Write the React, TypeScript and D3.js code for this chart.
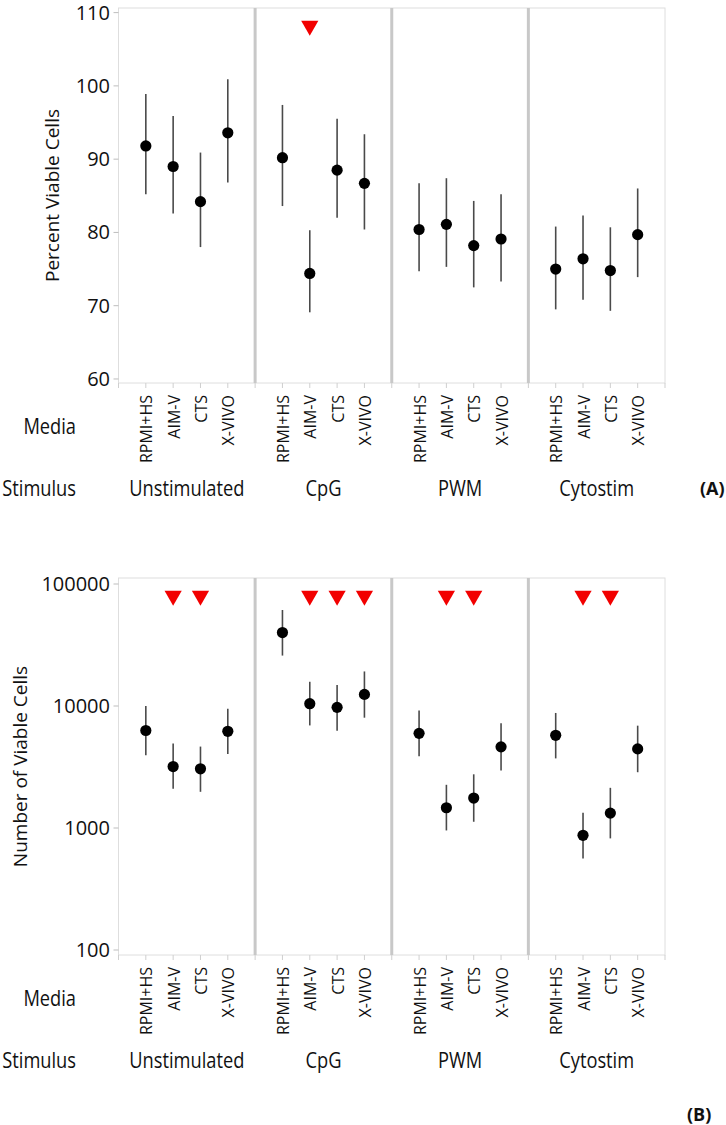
import React from "react";
import * as d3 from "d3";

// ---------- data ----------
const stimuli = ["Unstimulated", "CpG", "PWM", "Cytostim"];
const media = ["RPMI+HS", "AIM-V", "CTS", "X-VIVO"];

// Panel A: Percent viable cells (order: stimulus-major, media-minor)
const pctMean = [91.8, 89.0, 84.2, 93.6, 90.2, 74.4, 88.5, 86.7, 80.4, 81.1, 78.2, 79.1, 75.0, 76.4, 74.8, 79.7];
const pctLow = [85.2, 82.6, 78.0, 86.8, 83.6, 69.1, 82.0, 80.4, 74.7, 75.3, 72.5, 73.3, 69.5, 70.8, 69.3, 73.9];
const pctHigh = [98.9, 95.9, 90.9, 100.9, 97.4, 80.3, 95.5, 93.4, 86.7, 87.4, 84.3, 85.2, 80.8, 82.3, 80.7, 86.0];
const pctFlags = [[1, 1]]; // [stimulus index, media index]
const pctFlagValue = 108.2;
const pctTicks = [60, 70, 80, 90, 100, 110];

// Panel B: Number of viable cells
const cellMean = [6300, 3190, 3055, 6200, 40000, 10450, 9750, 12450, 5970, 1466, 1760, 4625, 5755, 871, 1325, 4450];
const cellLow = [3950, 2095, 1980, 4050, 25900, 6930, 6280, 8020, 3870, 955, 1125, 2960, 3720, 563, 822, 2865];
const cellHigh = [10000, 4920, 4650, 9500, 61200, 15800, 14850, 19200, 9200, 2260, 2755, 7210, 8770, 1333, 2135, 6900];
const cellFlags = [[0, 1], [0, 2], [1, 1], [1, 2], [1, 3], [2, 1], [2, 2], [3, 1], [3, 2]];
const cellFlagValue = 80000;
const cellTicks = [100, 1000, 10000, 100000];

const FONT = "'Open Sans', 'Noto Sans', sans-serif";

const LEFT = 118.5;
const RIGHT = 665;

const xGroup = d3.scaleBand<string>().domain(stimuli).range([LEFT, RIGHT]).paddingInner(0).paddingOuter(0);
const xMedia = d3.scalePoint<string>().domain(media).range([0, xGroup.bandwidth()]).padding(1);

type PanelProps = {
  top: number;
  bottom: number;
  y: (v: number) => number;
  ticks: number[];
  mean: number[];
  low: number[];
  high: number[];
  flags: number[][];
  flagValue: number;
  title: string;
  titleX: number;
  letter: string;
  letterX: number;
  letterY: number;
};

function Panel(p: PanelProps) {
  const { top, bottom, y } = p;
  const cx = (s: number, m: number) => (xGroup(stimuli[s]) as number) + (xMedia(media[m]) as number);
  const items: { s: number; m: number; i: number }[] = [];
  stimuli.forEach((_, s) => media.forEach((_, m) => items.push({ s, m, i: s * media.length + m })));
  const titleY = (top + bottom) / 2;
  const mediaEnd = bottom + 12;
  const mediaBase = bottom + 51;
  const stimBase = bottom + 113;
  const tickXs: number[] = [];
  stimuli.forEach((s) => {
    tickXs.push(xGroup(s) as number);
    media.forEach((m) => tickXs.push((xGroup(s) as number) + (xMedia(m) as number)));
  });
  tickXs.push(RIGHT);
  const tri = d3.symbol().type(d3.symbolTriangle).size(128)();
  return (
    <g>
      {/* frame */}
      <rect x={LEFT} y={top} width={RIGHT - LEFT} height={bottom - top} fill="#fff" stroke="#dedede" strokeWidth={1} />
      {/* y ticks */}
      {p.ticks.map((t) => (
        <g key={t}>
          <line x1={LEFT - 5} x2={LEFT} y1={y(t)} y2={y(t)} stroke="#bdbdbd" strokeWidth={1} />
          <text x={110} y={y(t)} dy="0.35em" textAnchor="end" fontSize={20} fontFamily={FONT} fill="#111">
            {t}
          </text>
        </g>
      ))}
      {/* x ticks */}
      {tickXs.map((x, k) => (
        <line key={k} x1={x} x2={x} y1={bottom} y2={bottom + 5} stroke="#cfcfcf" strokeWidth={1} />
      ))}
      {/* separators */}
      {stimuli.slice(1).map((s) => (
        <line key={s} x1={xGroup(s)} x2={xGroup(s)} y1={top} y2={bottom} stroke="#c8c8c8" strokeWidth={3} />
      ))}
      {/* y title */}
      <text
        transform={`translate(${p.titleX},${titleY}) rotate(-90)`}
        textAnchor="middle"
        fontSize={19}
        fontFamily={FONT}
        fill="#111"
      >
        {p.title}
      </text>
      {/* error bars and points */}
      {items.map(({ s, m, i }) => (
        <g key={i}>
          <line x1={cx(s, m)} x2={cx(s, m)} y1={y(p.low[i])} y2={y(p.high[i])} stroke="#4a4a4a" strokeWidth={1.6} />
          <circle cx={cx(s, m)} cy={y(p.mean[i])} r={5.6} fill="#000" />
        </g>
      ))}
      {/* flags */}
      {p.flags.map(([s, m], k) => (
        <path
          key={k}
          d={tri as string}
          transform={`translate(${cx(s, m)},${y(p.flagValue)}) rotate(180)`}
          fill="#f20000"
        />
      ))}
      {/* media labels */}
      {items.map(({ s, m, i }) => (
        <text
          key={"m" + i}
          transform={`translate(${cx(s, m) + 1},${mediaEnd}) rotate(-90)`}
          dy="0.35em"
          textAnchor="end"
          fontSize={16}
          fontFamily={FONT}
          fill="#111"
        >
          {media[m]}
        </text>
      ))}
      <text transform={`translate(76,${mediaBase}) scale(0.87,1)`} textAnchor="end" fontSize={21} fontFamily={FONT} fill="#111">
        Media
      </text>
      <text transform={`translate(76,${stimBase}) scale(0.87,1)`} textAnchor="end" fontSize={21} fontFamily={FONT} fill="#111">
        Stimulus
      </text>
      {stimuli.map((s) => (
        <text
          key={s}
          transform={`translate(${(xGroup(s) as number) + xGroup.bandwidth() / 2},${stimBase}) scale(0.87,1)`}
          textAnchor="middle"
          fontSize={21}
          fontFamily={FONT}
          fill="#111"
        >
          {s}
        </text>
      ))}
      <text x={p.letterX} y={p.letterY} fontSize={18} fontWeight="bold" fontFamily={FONT} fill="#111">
        {p.letter}
      </text>
    </g>
  );
}

export default function App() {
  const topA = 8;
  const bottomA = 383;
  const yA = d3.scaleLinear().domain([59.45, 110.63]).range([bottomA, topA]);
  const topB = 578;
  const bottomB = 955;
  const yB = d3.scaleLog().domain([91, 112000]).range([bottomB, topB]);
  return (
    <svg
      width={726}
      height={1125}
      style={{ position: "absolute", left: 0, top: 0, background: "#fff" }}
    >
      <rect width={726} height={1125} fill="#fff" />
      <Panel
        top={topA}
        bottom={bottomA}
        y={yA}
        ticks={pctTicks}
        mean={pctMean}
        low={pctLow}
        high={pctHigh}
        flags={pctFlags}
        flagValue={pctFlagValue}
        title="Percent Viable Cells"
        titleX={59}
        letter="(A)"
        letterX={700}
        letterY={495}
      />
      <Panel
        top={topB}
        bottom={bottomB}
        y={yB}
        ticks={cellTicks}
        mean={cellMean}
        low={cellLow}
        high={cellHigh}
        flags={cellFlags}
        flagValue={cellFlagValue}
        title="Number of Viable Cells"
        titleX={27}
        letter="(B)"
        letterX={687}
        letterY={1121}
      />
    </svg>
  );
}
